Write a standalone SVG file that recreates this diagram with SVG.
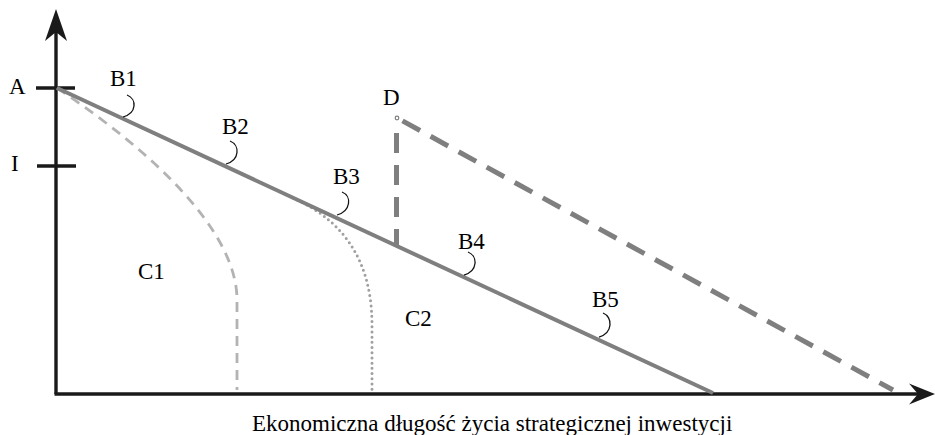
<svg xmlns="http://www.w3.org/2000/svg" width="935" height="435" viewBox="0 0 935 435">
<style>
text{font-family:"Liberation Serif","Times New Roman",serif;font-size:23px;fill:#000}
.axis{stroke:#1a1a1a;stroke-width:3.4;fill:none}
.main{stroke:#7f7f7f;stroke-width:4;fill:none}
.c1{stroke:#b3b3b3;stroke-width:2.8;fill:none;stroke-dasharray:10 7}
.c2{stroke:#a0a0a0;stroke-width:3;fill:none;stroke-dasharray:0 5.2;stroke-linecap:round}
.d{stroke:#7f7f7f;stroke-width:5;fill:none;stroke-dasharray:20 12}
.arc{stroke:#111;stroke-width:1.3;fill:none}
</style>
<g id="axes">
<line class="axis" x1="56" y1="394" x2="56" y2="30"/>
<line class="axis" x1="54.5" y1="394" x2="918" y2="394"/>
<path d="M56,9 L67,41 L56,32 L45,41 Z" fill="#1a1a1a"/>
<path d="M935,394 L909,383.5 L918,394 L909,404.5 Z" fill="#1a1a1a"/>
<line class="axis" x1="36" y1="88" x2="75" y2="88" stroke-width="2.5"/>
<line class="axis" x1="37" y1="166" x2="76" y2="166" stroke-width="2.5"/>
<text x="9" y="94">A</text>
<text x="11" y="171">I</text>
<text x="252" y="431">Ekonomiczna długość życia strategicznej inwestycji</text>
</g>
<g id="connectors">
<path id="C1-curve" class="c1" d="M57,88 C150,150 237,230 237,300 L237,390"/>
<path id="C2-curve" class="c2" d="M293,198 C338,218 372,255 372,325 L372,390"/>
<line id="main-line" class="main" x1="57" y1="88" x2="713" y2="393"/>
<line id="D-vertical" class="d" x1="396.5" y1="133" x2="396.5" y2="245"/>
<line id="D-diagonal" class="d" x1="399" y1="119" x2="893" y2="390" stroke-dashoffset="-4"/>
<circle cx="397" cy="118" r="1.8" fill="#fff" stroke="#7f7f7f" stroke-width="1.2"/>
</g>
<g id="B1"><text x="110" y="86">B1</text><path class="arc" d="M127,95 C137,99 137,113 123,117"/></g>
<g id="B2"><text x="222" y="134">B2</text><path class="arc" d="M230,141 C240,145 240,160 226,164"/></g>
<g id="B3"><text x="333" y="184">B3</text><path class="arc" d="M342,192 C352,196 351,211 337,215"/></g>
<g id="B4"><text x="458" y="249">B4</text><path class="arc" d="M468,252 C478,256 478,271 464,275"/></g>
<g id="B5"><text x="592" y="307">B5</text><path class="arc" d="M603,313 C613,317 613,333 599,337"/></g>
<g id="C1"><text x="138" y="279">C1</text></g>
<g id="C2"><text x="405" y="326">C2</text></g>
<g id="D"><text x="383" y="105">D</text></g>
</svg>
